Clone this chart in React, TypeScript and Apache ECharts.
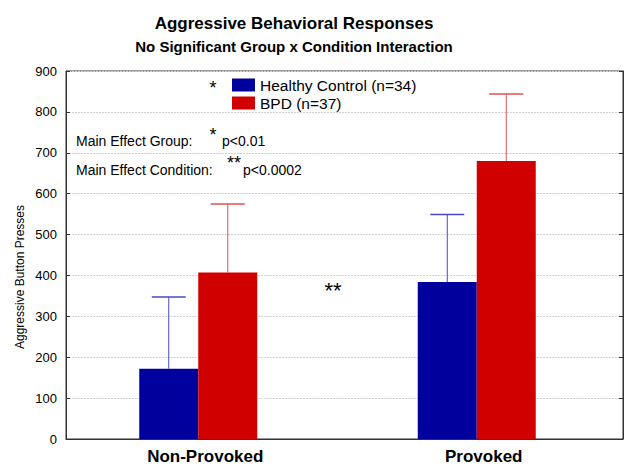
import React, { useEffect, useRef } from "react";
import * as echarts from "echarts";

const categories = ["Non-Provoked", "Provoked"];
const hcMeans = [172, 384];
const hcUpper = [347, 549];
const bpdMeans = [407, 680];
const bpdUpper = [575, 844];
const yTicks = { min: 0, max: 900, interval: 100 };
const seriesNames = ["Healthy Control (n=34)", "BPD (n=37)"];

const FONT = "'Liberation Sans', Arial, sans-serif";

export default function App() {
  const ref = useRef<HTMLDivElement>(null);
  useEffect(() => {
    document.body.style.margin = "0";
    const chart = echarts.init(ref.current!, null, { renderer: "svg" });
    const errRender = (offset: number, color: string) => (params: any, api: any) => {
      const p0 = api.coord([api.value(0), api.value(1)]);
      const p1 = api.coord([api.value(0), api.value(2)]);
      const x = p0[0] + offset;
      const half = 17;
      return {
        type: "group",
        children: [
          { type: "line", shape: { x1: x, y1: p0[1], x2: x, y2: p1[1] }, style: { stroke: color, lineWidth: 1 } },
          { type: "line", shape: { x1: x - half, y1: p1[1], x2: x + half, y2: p1[1] }, style: { stroke: color, lineWidth: 1.5 } },
        ],
      };
    };
    chart.setOption({
      animation: false,
      backgroundColor: "#fff",
      textStyle: { fontFamily: FONT },
      grid: [
        { left: 66, right: 11, top: 71, bottom: 37, show: true, borderColor: "#333", borderWidth: 1, backgroundColor: "transparent" },
        { left: 59, right: 18, top: 71, bottom: 37 },
      ],
      legend: {
        data: seriesNames,
        orient: "vertical",
        left: 232,
        top: 77,
        itemWidth: 23,
        itemHeight: 13,
        itemGap: 2,
        icon: "rect",
        padding: 0,
        textStyle: { fontSize: 15.5, color: "#000", fontFamily: FONT },
      },
      xAxis: [
        {
          type: "category",
          gridIndex: 0,
          data: categories,
          axisLine: { show: true, lineStyle: { color: "#333", width: 1 } },
          axisTick: { show: false },
          axisLabel: { fontSize: 17, fontWeight: "bold", color: "#000", margin: 9, fontFamily: FONT },
        },
        { type: "category", gridIndex: 1, data: categories, show: false },
      ],
      yAxis: [
        {
          type: "value",
          gridIndex: 0,
          min: yTicks.min,
          max: yTicks.max,
          interval: yTicks.interval,
          axisLine: { show: true, lineStyle: { color: "#333" } },
          axisTick: { show: true, inside: true, length: 4, lineStyle: { color: "#333" } },
          axisLabel: { fontSize: 13, color: "#000", margin: 9, fontFamily: FONT },
          splitLine: { show: true, lineStyle: { color: "#d2d2d2", type: [2, 1], width: 1 } },
        },
        {
          type: "value",
          gridIndex: 0,
          position: "right",
          min: yTicks.min,
          max: yTicks.max,
          interval: yTicks.interval,
          axisLine: { show: true, lineStyle: { color: "#333" } },
          axisTick: { show: true, inside: true, length: 4, lineStyle: { color: "#333" } },
          axisLabel: { show: false },
          splitLine: { show: false },
        },
        { type: "value", gridIndex: 1, min: yTicks.min, max: yTicks.max, show: false, splitLine: { show: false } },
      ],
      series: [
        {
          name: seriesNames[0],
          type: "bar",
          xAxisIndex: 1,
          yAxisIndex: 2,
          data: hcMeans,
          barWidth: 59,
          barGap: "0%",
          itemStyle: { color: "#00009C" },
        },
        {
          name: seriesNames[1],
          type: "bar",
          xAxisIndex: 1,
          yAxisIndex: 2,
          data: bpdMeans,
          barWidth: 59,
          barGap: "0%",
          itemStyle: { color: "#D00000" },
        },
        {
          type: "custom",
          xAxisIndex: 1,
          yAxisIndex: 2,
          z: 5,
          data: hcMeans.map((m, i) => [i, m, hcUpper[i]]),
          renderItem: errRender(-29.5, "#4848c0"),
        },
        {
          type: "custom",
          xAxisIndex: 1,
          yAxisIndex: 2,
          z: 5,
          data: bpdMeans.map((m, i) => [i, m, bpdUpper[i]]),
          renderItem: errRender(29.5, "#e05050"),
        },
      ],
      graphic: [
        { type: "text", x: 294, y: 23, style: { text: "Aggressive Behavioral Responses", font: `bold 17px ${FONT}`, fill: "#000", textAlign: "center", textVerticalAlign: "middle" } },
        { type: "text", x: 294, y: 46, style: { text: "No Significant Group x Condition Interaction", font: `bold 15px ${FONT}`, fill: "#000", textAlign: "center", textVerticalAlign: "middle" } },
        { type: "text", x: 20, y: 277, rotation: Math.PI / 2, style: { text: "Aggressive Button Presses", font: `12px ${FONT}`, fill: "#000", textAlign: "center", textVerticalAlign: "middle" } },
        { type: "text", x: 213, y: 88, style: { text: "*", font: `18px ${FONT}`, fill: "#000", textAlign: "center", textVerticalAlign: "middle" } },
        { type: "text", x: 76, y: 141, style: { text: "Main Effect Group:", font: `14px ${FONT}`, fill: "#000", textAlign: "left", textVerticalAlign: "middle" } },
        { type: "text", x: 213, y: 135, style: { text: "*", font: `18px ${FONT}`, fill: "#000", textAlign: "center", textVerticalAlign: "middle" } },
        { type: "text", x: 222, y: 141, style: { text: "p<0.01", font: `14px ${FONT}`, fill: "#000", textAlign: "left", textVerticalAlign: "middle" } },
        { type: "text", x: 76, y: 170, style: { text: "Main Effect Condition:", font: `14px ${FONT}`, fill: "#000", textAlign: "left", textVerticalAlign: "middle" } },
        { type: "text", x: 234, y: 163, style: { text: "**", font: `18px ${FONT}`, fill: "#000", textAlign: "center", textVerticalAlign: "middle" } },
        { type: "text", x: 243, y: 170, style: { text: "p<0.0002", font: `14px ${FONT}`, fill: "#000", textAlign: "left", textVerticalAlign: "middle" } },
        { type: "text", x: 333, y: 290, style: { text: "**", font: `22px ${FONT}`, fill: "#000", textAlign: "center", textVerticalAlign: "middle" } },
      ],
    });
    return () => chart.dispose();
  }, []);
  return <div ref={ref} style={{ width: 634, height: 476 }} />;
}
